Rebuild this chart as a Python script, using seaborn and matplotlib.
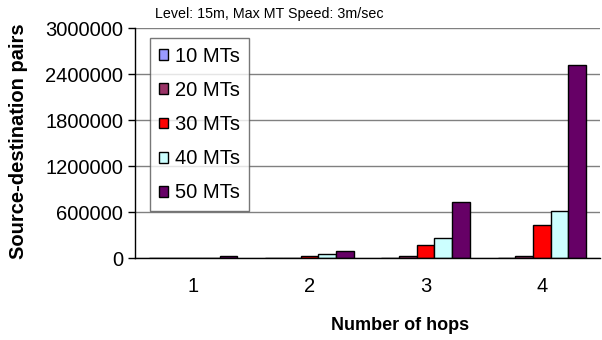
import matplotlib
matplotlib.use("Agg")
import matplotlib.pyplot as plt
import seaborn as sns
import pandas as pd

hops = ["1", "2", "3", "4"]
series = ["10 MTs", "20 MTs", "30 MTs", "40 MTs", "50 MTs"]
v10 = [0, 0, 0, 0]
v20 = [0, 5000, 20000, 22000]
v30 = [0, 22000, 170000, 430000]
v40 = [0, 52000, 265000, 617000]
v50 = [20000, 95000, 734000, 2517000]
colors = ["#9999FF", "#993366", "#FF0000", "#CCFFFF", "#660066"]

rows = []
for name, vals in zip(series, [v10, v20, v30, v40, v50]):
    for h, v in zip(hops, vals):
        rows.append({"hops": h, "series": name, "value": v})
df = pd.DataFrame(rows)

sns.set_style("white")
plt.rcParams["font.family"] = ["Liberation Sans", "DejaVu Sans"]
plt.rcParams["text.color"] = "black"
plt.rcParams["axes.labelcolor"] = "black"
plt.rcParams["xtick.color"] = "black"
plt.rcParams["ytick.color"] = "black"

fig = plt.figure(figsize=(6.02, 3.4), dpi=100)
ax = fig.add_axes([135/602, 1-258/340, 465/602, 230/340])
sns.barplot(data=df, x="hops", y="value", hue="series", palette=colors,
            width=0.76, edgecolor="black", linewidth=1.0, ax=ax, saturation=1)

ax.set_ylim(0, 3000000)
ax.set_xlim(-0.5, 3.5)
ax.set_yticks([0, 600000, 1200000, 1800000, 2400000, 3000000])
ax.set_yticklabels(["0", "600000", "1200000", "1800000", "2400000", "3000000"], fontsize=14.5)
ax.set_xticks([0, 1, 2, 3])
ax.set_xticklabels(hops, fontsize=14.5)
ax.tick_params(axis="x", which="major", length=0, pad=14, labelcolor="black")
ax.set_xticks([-0.5, 0.5, 1.5, 2.5, 3.5], minor=True)
ax.tick_params(axis="x", which="minor", length=5, color="black", width=1, direction="out")
ax.tick_params(axis="y", which="major", length=5, color="black", width=1, direction="out",
               left=True, labelcolor="black")
ax.yaxis.grid(True, color="#808080", linewidth=1)
ax.set_axisbelow(True)
for s in ["top", "right"]:
    ax.spines[s].set_visible(False)
for s in ["left", "bottom"]:
    ax.spines[s].set_color("black")
    ax.spines[s].set_linewidth(1)

ax.set_ylabel("Source-destination pairs", fontsize=14.5, fontweight="bold", color="black")
ax.yaxis.set_label_coords((18-135)/465, 0.5 + (258-141-115)/230)
ax.set_xlabel("Number of hops", fontsize=13, fontweight="bold", color="black")
ax.xaxis.set_label_coords((400-135)/465, -(326-258)/230)
ax.xaxis.label.set_va("center")
ax.yaxis.label.set_va("center")

leg = ax.legend(loc="upper left", bbox_to_anchor=(0.032, 0.957), fontsize=14.5,
                frameon=True, fancybox=False, edgecolor="#555555",
                handlelength=0.45, handleheight=0.45, handletextpad=0.35,
                labelspacing=0.75, borderpad=0.45, borderaxespad=0)
leg.get_frame().set_linewidth(1)
for t in leg.get_texts():
    t.set_color("black")

fig.text(155/602, 1-14/340, "Level: 15m, Max MT Speed: 3m/sec", fontsize=10.3,
         va="center", ha="left", color="black")

fig.savefig("out.png", dpi=100)
